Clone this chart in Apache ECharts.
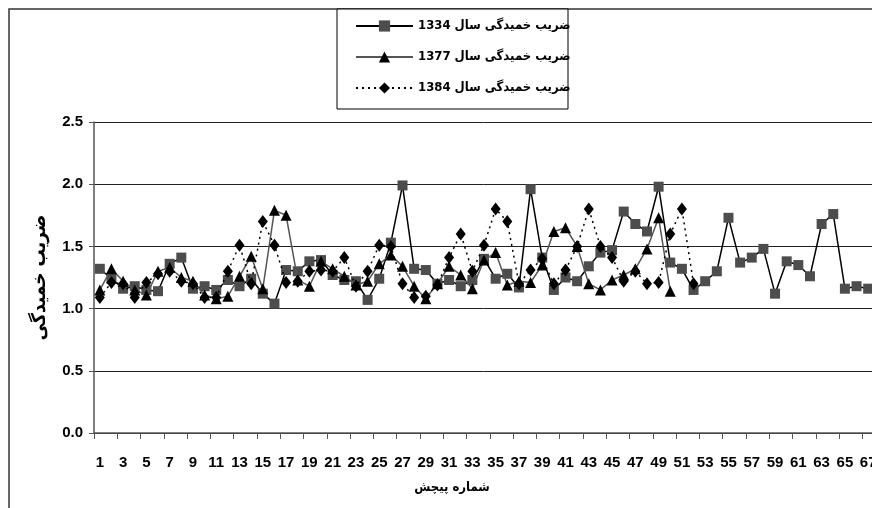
<!DOCTYPE html>
<html>
<head>
<meta charset="utf-8">
<title>ضریب خمیدگی</title>
<script src="https://cdn.jsdelivr.net/npm/echarts@6/dist/echarts.min.js"></script>
<style>
  html, body { margin: 0; padding: 0; background: #fff; }
  #chart { width: 872px; height: 508px; }
</style>
</head>
<body>
<div id="chart"></div>
<script>
// category labels: 1..67 (spiral number)
const categories = []
for (let i = 1; i <= 67; i++) categories.push(String(i))

const yTicks = [0, 0.5, 1.0, 1.5, 2.0, 2.5]

// year 1334
const values1334 = [
  1.32, 1.24, 1.16, 1.18, 1.15, 1.14, 1.36, 1.41, 1.16, 1.18,
  1.15, 1.23, 1.18, 1.24, 1.12, 1.04, 1.31, 1.30, 1.38, 1.39,
  1.27, 1.23, 1.22, 1.07, 1.24, 1.53, 1.99, 1.32, 1.31, 1.20,
  1.23, 1.18, 1.23, 1.40, 1.24, 1.28, 1.17, 1.96, 1.41, 1.15,
  1.25, 1.22, 1.34, 1.45, 1.47, 1.78, 1.68, 1.62, 1.98, 1.37,
  1.32, 1.15, 1.22, 1.30, 1.73, 1.37, 1.41, 1.48, 1.12, 1.38,
  1.35, 1.26, 1.68, 1.76, 1.16, 1.18, 1.16
]

// year 1377
const values1377 = [
  1.15, 1.32, 1.22, 1.15, 1.11, 1.30, 1.33, 1.25, 1.22, 1.11,
  1.08, 1.10, 1.26, 1.42, 1.16, 1.79, 1.75, 1.23, 1.18, 1.38,
  1.32, 1.26, 1.19, 1.22, 1.36, 1.43, 1.34, 1.18, 1.08, 1.20,
  1.34, 1.27, 1.16, 1.39, 1.45, 1.19, 1.22, 1.21, 1.35, 1.62,
  1.65, 1.50, 1.20, 1.15, 1.23, 1.27, 1.32, 1.48, 1.73, 1.14
]

// year 1384
const values1384 = [
  1.09, 1.21, 1.20, 1.09, 1.21, 1.28, 1.30, 1.22, 1.20, 1.09,
  1.09, 1.30, 1.51, 1.20, 1.70, 1.51, 1.21, 1.22, 1.30, 1.31,
  1.30, 1.41, 1.18, 1.30, 1.51, 1.50, 1.20, 1.09, 1.10, 1.19,
  1.41, 1.60, 1.30, 1.51, 1.80, 1.70, 1.20, 1.31, 1.40, 1.20,
  1.31, 1.50, 1.80, 1.50, 1.41, 1.22, 1.30, 1.20, 1.21, 1.60,
  1.80, 1.20
]

const seriesNames = ['ضریب خمیدگی سال 1334', 'ضریب خمیدگی سال 1377', 'ضریب خمیدگی سال 1384']

const NUM_FONT = '"Liberation Sans Narrow", "Liberation Sans", Arial, sans-serif'
const AR_FONT = '"Liberation Sans Narrow", "DejaVu Sans Condensed", "DejaVu Sans", sans-serif'

const chart = echarts.init(document.getElementById('chart'))

const option = {
  animation: false,
  backgroundColor: '#fff',
  textStyle: { fontFamily: NUM_FONT, color: '#000' },
  graphic: [
    // outer chart frame (continues past the cropped right and bottom edges)
    {
      type: 'rect',
      z: -1,
      shape: { x: 9, y: 9, width: 900, height: 600 },
      style: { fill: null, stroke: '#333', lineWidth: 1.5 }
    },
    // legend box
    {
      type: 'rect',
      z: 5,
      shape: { x: 337, y: 9, width: 231, height: 100 },
      style: { fill: '#fff', stroke: '#000', lineWidth: 1 }
    },
    {
      type: 'text',
      x: 452,
      y: 488,
      style: {
        text: 'شماره پیچش',
        font: 'bold 13px ' + AR_FONT,
        fill: '#000',
        align: 'center',
        verticalAlign: 'middle'
      }
    }
  ],
  legend: {
    orient: 'vertical',
    left: 355,
    top: 19,
    padding: 0,
    itemGap: 17,
    itemWidth: 57,
    itemHeight: 14,
    z: 10,
    data: seriesNames,
    textStyle: { fontFamily: AR_FONT, fontWeight: 'bold', fontSize: 13, lineHeight: 14, color: '#000' }
  },
  grid: {
    left: 94,
    right: -2,
    top: 122,
    bottom: 75,
    outerBoundsMode: 'none',
    containLabel: false
  },
  xAxis: {
    type: 'category',
    data: categories,
    boundaryGap: true,
    axisLine: { lineStyle: { color: '#555', width: 1.5 } },
    axisTick: { show: true, length: 6, lineStyle: { color: '#555' } },
    axisLabel: {
      interval: 1,
      margin: 22,
      fontFamily: NUM_FONT,
      fontWeight: 'bold',
      fontSize: 15,
      color: '#000',
      hideOverlap: false
    },
    splitLine: { show: false }
  },
  yAxis: {
    type: 'value',
    min: yTicks[0],
    max: yTicks[yTicks.length - 1],
    interval: 0.5,
    name: 'ضریب خمیدگی',
    nameLocation: 'middle',
    nameGap: 44,
    nameTextStyle: { fontFamily: AR_FONT, fontWeight: 'bold', fontSize: 19, color: '#000' },
    axisLine: { show: true, lineStyle: { color: '#555', width: 1.5 } },
    axisTick: { show: true, length: 5, lineStyle: { color: '#555' } },
    axisLabel: {
      margin: 11,
      fontFamily: NUM_FONT,
      fontWeight: 'bold',
      fontSize: 15,
      color: '#000',
      formatter: v => v.toFixed(1)
    },
    splitLine: { show: true, lineStyle: { color: '#222', width: 1 } }
  },
  series: [
    {
      name: seriesNames[0],
      type: 'line',
      data: values1334,
      symbol: 'rect',
      symbolSize: 10,
      showAllSymbol: true,
      itemStyle: { color: '#4d4d4d' },
      lineStyle: { color: '#000', width: 1.5 },
      z: 2
    },
    {
      name: seriesNames[1],
      type: 'line',
      data: values1377,
      symbol: 'triangle',
      symbolSize: [11, 11],
      showAllSymbol: true,
      itemStyle: { color: '#000' },
      lineStyle: { color: '#555', width: 1.5 },
      z: 3
    },
    {
      name: seriesNames[2],
      type: 'line',
      data: values1384,
      symbol: 'diamond',
      symbolSize: [10, 13],
      showAllSymbol: true,
      itemStyle: { color: '#000' },
      lineStyle: { color: '#000', width: 1.5, type: [2, 4] },
      z: 4
    }
  ]
}

chart.setOption(option)
window.addEventListener('resize', () => chart.resize())
</script>
</body>
</html>
